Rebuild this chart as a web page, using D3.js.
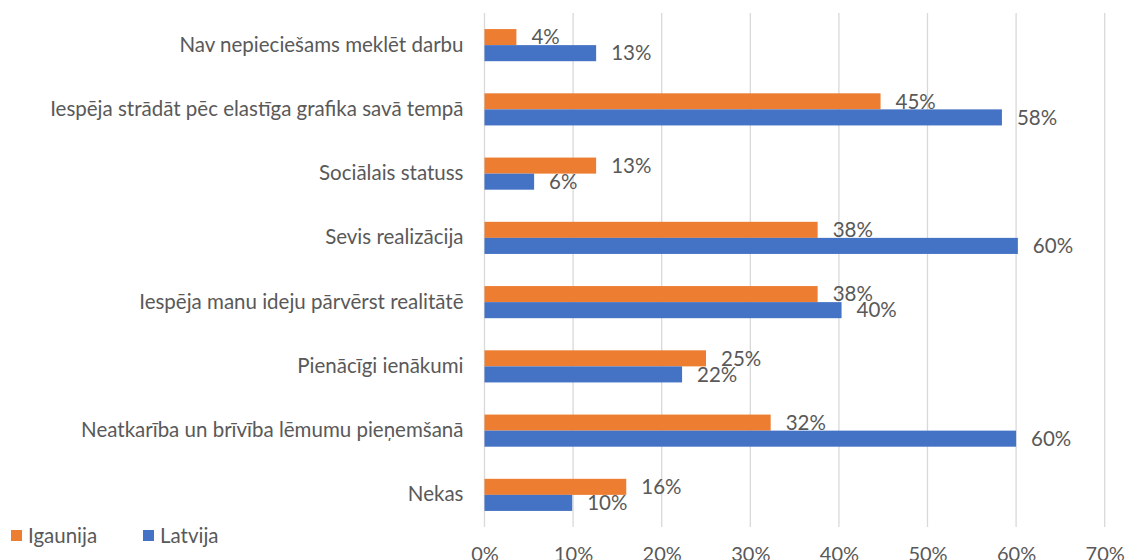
<!DOCTYPE html>
<html>
<head>
<meta charset="utf-8">
<script src="https://cdn.jsdelivr.net/npm/d3@7"></script>
<style>
  html, body { margin: 0; padding: 0; background: #fff; }
  svg { display: block; }
  text { font-family: Lato, "Open Sans", sans-serif; fill: #595959; }
</style>
</head>
<body>
<svg id="chart" width="1125" height="560"></svg>
<script>
const categories = [
  "Nav nepieciešams meklēt darbu",
  "Iespēja strādāt pēc elastīga grafika savā tempā",
  "Sociālais statuss",
  "Sevis realizācija",
  "Iespēja manu ideju pārvērst realitātē",
  "Pienācīgi ienākumi",
  "Neatkarība un brīvība lēmumu pieņemšanā",
  "Nekas"
];
const seriesNames = ["Igaunija", "Latvija"];
const igaunija = [3.6, 44.7, 12.6, 37.6, 37.6, 25.0, 32.3, 16.0];
const latvija  = [12.6, 58.4, 5.6, 60.2, 40.3, 22.3, 60.0, 9.9];
const xTicks = [0, 10, 20, 30, 40, 50, 60, 70];
const colors = ["#ED7D31", "#4472C4"];

const svg = d3.select("#chart");
const plot = { left: 484.5, right: 1104.7, top: 13, bottom: 527 };
const FS = 20.5;

const x = d3.scaleLinear().domain([0, 70]).range([plot.left, plot.right]);
const y = d3.scaleBand().domain(categories).range([plot.top, plot.bottom]).paddingInner(0.5).paddingOuter(0.25);
const sub = d3.scaleBand().domain(seriesNames).range([0, y.bandwidth()]);

// gridlines
svg.append("g").selectAll("line").data(xTicks).join("line")
  .attr("x1", d => x(d)).attr("x2", d => x(d))
  .attr("y1", plot.top).attr("y2", plot.bottom)
  .attr("stroke", "#D9D9D9").attr("stroke-width", 1.3);

// x axis tick labels
const xAxis = d3.axisBottom(x).tickValues(xTicks).tickFormat(d => d + "%").tickSize(0).tickPadding(0);
const gx = svg.append("g").attr("transform", `translate(0, ${plot.bottom + 20})`).call(xAxis);
gx.select(".domain").remove();
gx.selectAll("text").attr("font-size", FS - 0.5).attr("fill", "#595959").style("font-family", "Lato, 'Open Sans', sans-serif");

// category labels
const yAxis = d3.axisLeft(y).tickSize(0).tickPadding(21);
const gy = svg.append("g").attr("transform", `translate(${plot.left}, 0)`).call(yAxis);
gy.select(".domain").remove();
gy.selectAll("text").attr("font-size", FS).attr("fill", "#595959").style("font-family", "Lato, 'Open Sans', sans-serif");

const data = categories.map((c, i) => ({ cat: c, vals: [
  { s: seriesNames[0], v: igaunija[i] },
  { s: seriesNames[1], v: latvija[i] }
]}));

const groups = svg.append("g").selectAll("g").data(data).join("g")
  .attr("transform", d => `translate(0, ${y(d.cat)})`);

groups.selectAll("rect").data(d => d.vals).join("rect")
  .attr("x", x(0))
  .attr("y", d => sub(d.s))
  .attr("width", d => x(d.v) - x(0))
  .attr("height", sub.bandwidth())
  .attr("fill", (d, i) => colors[i]);

groups.selectAll("text.lbl").data(d => d.vals).join("text")
  .attr("class", "lbl")
  .attr("x", d => x(d.v) + 15)
  .attr("y", d => sub(d.s) + sub.bandwidth() / 2)
  .attr("dy", "0.35em")
  .attr("font-size", FS)
  .attr("fill", "#404040")
  .text(d => Math.round(d.v) + "%");

// legend
const legend = svg.append("g").attr("transform", "translate(11, 530)");
const legX = [0, 132];
seriesNames.forEach((n, i) => {
  const g = legend.append("g").attr("transform", `translate(${legX[i]}, 0)`);
  g.append("rect").attr("width", 11).attr("height", 11).attr("fill", colors[i]);
  g.append("text").attr("x", 17).attr("y", 6).attr("dy", "0.35em").attr("font-size", FS).text(n);
});
</script>
</body>
</html>
